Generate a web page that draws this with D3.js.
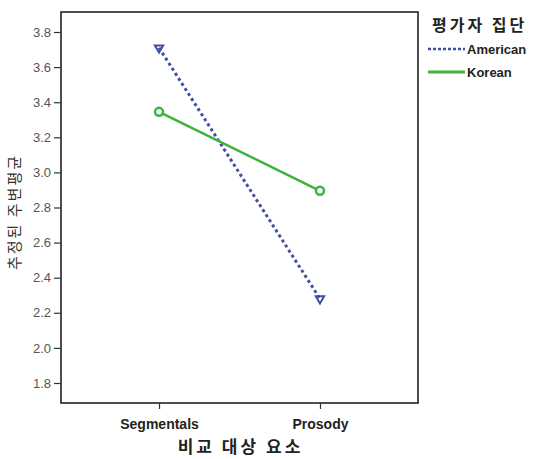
<!DOCTYPE html>
<html>
<head>
<meta charset="utf-8">
<script src="https://cdn.jsdelivr.net/npm/d3@7"></script>
<style>
  body { margin: 0; background: #fff; }
  text { font-family: "Liberation Sans", Arial, sans-serif; }
</style>
</head>
<body>
<div id="chart"></div>
<script>
// categories and series
let categories = ['Segmentals', 'Prosody']
let american = [3.71, 2.28]
let korean = [3.345, 2.895]
let yTicks = [1.8, 2.0, 2.2, 2.4, 2.6, 2.8, 3.0, 3.2, 3.4, 3.6, 3.8]
let seriesNames = ['American', 'Korean']

let width = 538,
    height = 459
let margin = {left: 61, top: 12, right: 120, bottom: 56}

let svg = d3.select("#chart")
  .append("svg")
  .attr("width", width)
  .attr("height", height)

let x = d3.scalePoint()
  .domain(categories)
  .range([margin.left, width - margin.right])
  .padding(0.609)

let y = d3.scaleLinear()
  .domain([1.686, 3.914])
  .range([height - margin.bottom, margin.top])

// frame
svg.append("rect")
  .attr("x", margin.left)
  .attr("y", margin.top)
  .attr("width", width - margin.right - margin.left)
  .attr("height", height - margin.bottom - margin.top)
  .attr("fill", "none")
  .attr("stroke", "#222")
  .attr("stroke-width", 1.6)

// y axis
let yAxis = svg.append("g")
  .attr("transform", "translate(" + margin.left + ",0)")
  .call(d3.axisLeft(y).tickValues(yTicks).tickFormat(d3.format(".1f")).tickSize(7).tickPadding(3))
yAxis.select(".domain").remove()
yAxis.selectAll("line").attr("stroke", "#333").attr("stroke-width", 1.2)
yAxis.selectAll("text").style("font-size", "13px").attr("fill", "#555")

// x axis
let xAxis = svg.append("g")
  .attr("transform", "translate(0," + (height - margin.bottom) + ")")
  .call(d3.axisBottom(x).tickSize(6).tickPadding(10))
xAxis.select(".domain").remove()
xAxis.selectAll("line").attr("stroke", "#333").attr("stroke-width", 1.2)
xAxis.selectAll("text").style("font-size", "14px").style("font-weight", "bold").attr("fill", "#222")

// axis titles
svg.append("text")
  .attr("x", (margin.left + width - margin.right) / 2 + 1)
  .attr("y", 453)
  .attr("text-anchor", "middle")
  .style("font-family", "'Noto Sans CJK KR'")
  .style("font-size", "17px")
  .style("font-weight", "bold")
  .style("letter-spacing", "3px")
  .attr("fill", "#222")
  .text("비교 대상 요소")

svg.append("text")
  .attr("transform", "translate(20,212) rotate(-90)")
  .attr("text-anchor", "middle")
  .style("font-family", "'Noto Sans CJK KR'")
  .style("font-size", "15px")
  .style("letter-spacing", "2px")
  .attr("fill", "#333")
  .text("추정된 주변평균")

let line = d3.line()
  .x((d, i) => x(categories[i]))
  .y(d => y(d))

// American: dotted blue with triangles
svg.append("path")
  .datum(american)
  .attr("d", line)
  .attr("fill", "none")
  .attr("stroke", "#3f4fa6")
  .attr("stroke-width", 3)
  .attr("stroke-dasharray", "3,3")

svg.selectAll(".tri")
  .data(american)
  .enter()
  .append("path")
  .attr("transform", (d, i) => "translate(" + x(categories[i]) + "," + y(d) + ") rotate(180)")
  .attr("d", d3.symbol().type(d3.symbolTriangle).size(30))
  .attr("fill", "none")
  .attr("stroke", "#3f4fa6")
  .attr("stroke-width", 2)

// Korean: solid green with circles
svg.append("path")
  .datum(korean)
  .attr("d", line)
  .attr("fill", "none")
  .attr("stroke", "#3cb43c")
  .attr("stroke-width", 2.5)

svg.selectAll(".dot")
  .data(korean)
  .enter()
  .append("circle")
  .attr("cx", (d, i) => x(categories[i]))
  .attr("cy", d => y(d))
  .attr("r", 4)
  .attr("fill", "#fff")
  .attr("stroke", "#3cb43c")
  .attr("stroke-width", 2.5)

// legend
let legend = svg.append("g")
svg.append("text")
  .attr("x", 432)
  .attr("y", 31)
  .style("font-family", "'Noto Sans CJK KR'")
  .style("font-size", "16px")
  .style("font-weight", "bold")
  .style("letter-spacing", "3px")
  .attr("fill", "#222")
  .text("평가자 집단")

seriesNames.forEach((name, i) => {
  let ly = 49 + i * 23
  legend.append("line")
    .attr("x1", 428).attr("x2", 465)
    .attr("y1", ly).attr("y2", ly)
    .attr("stroke", i == 0 ? "#3f4fa6" : "#3cb43c")
    .attr("stroke-width", i == 0 ? 2.5 : 3)
    .attr("stroke-dasharray", i == 0 ? "3,2" : null)
  legend.append("text")
    .attr("x", 467)
    .attr("y", ly + 4.5)
    .style("font-size", "13px")
    .style("font-weight", "bold")
    .attr("fill", "#222")
    .text(name)
})
</script>
</body>
</html>
